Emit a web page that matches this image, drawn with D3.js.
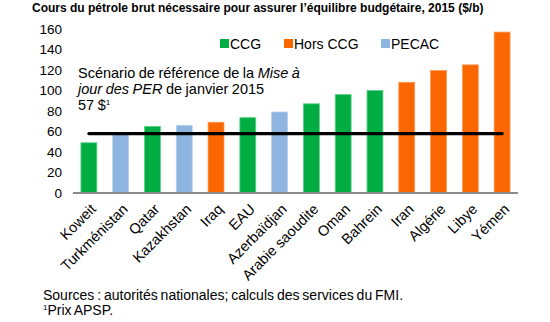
<!DOCTYPE html>
<html><head><meta charset="utf-8">
<script src="https://cdn.jsdelivr.net/npm/d3@7"></script>
<style>
body{margin:0;background:#fff;}
text{font-family:"Liberation Sans",Arial,sans-serif;fill:#000;}
</style></head>
<body>
<svg id="chart" width="550" height="322"></svg>
<script>
const countries = ["Koweit","Turkménistan","Qatar","Kazakhstan","Iraq","EAU","Azerbaïdjan","Arabie saoudite","Oman","Bahrein","Iran","Algérie","Libye","Yémen"];
const values = [49, 57, 65, 66, 69, 73.5, 79, 87, 96, 100, 108, 119.5, 125, 157];
const groups = ["CCG","PECAC","CCG","PECAC","Hors CCG","CCG","PECAC","CCG","CCG","CCG","Hors CCG","Hors CCG","Hors CCG","Hors CCG"];
const groupNames = ["CCG","Hors CCG","PECAC"];
const groupColors = ["#00AD43","#FA6600","#8DB5DF"];
const groupStroke = ["#5BD088","#FF9A55","#B5CFEC"];
const yTicks = [0,20,40,60,80,100,120,140,160];
const refValue = 57;

const svg = d3.select("#chart");
const x = d3.scaleBand().domain(countries).range([73,518]).paddingInner(0.5).paddingOuter(0.25);
const y = d3.scaleLinear().domain([0,160]).range([193,29]);
const color = d3.scaleOrdinal().domain(groupNames).range(groupColors);
const stroke = d3.scaleOrdinal().domain(groupNames).range(groupStroke);

// title
svg.append("text").attr("x",32).attr("y",11.5).attr("font-weight","bold").attr("font-size",12)
  .text("Cours du pétrole brut nécessaire pour assurer l’équilibre budgétaire, 2015 ($/b)");

// y axis labels
const yAxis = d3.axisLeft(y).tickValues(yTicks).tickSize(0).tickPadding(0);
const ya = svg.append("g").attr("transform","translate(62,0)").call(yAxis);
ya.select(".domain").remove();
ya.selectAll("text").attr("font-size",13.5).attr("font-family","Liberation Sans, Arial, sans-serif").attr("fill","#000");

// bars
svg.append("g").selectAll("rect").data(countries).join("rect")
  .attr("x",d=>x(d)).attr("width",x.bandwidth())
  .attr("y",(d,i)=>y(values[i])).attr("height",(d,i)=>y(0)-y(values[i]))
  .attr("fill",(d,i)=>color(groups[i]))
  .attr("stroke",(d,i)=>stroke(groups[i])).attr("stroke-width",0.8);

// x axis
const xAxis = d3.axisBottom(x).tickSize(0).tickPadding(0);
const xa = svg.append("g").attr("transform",`translate(0,${y(0)})`).call(xAxis);
xa.select(".domain").attr("stroke","#8a8a8a").attr("stroke-width",2).attr("d","M73,0H518");
xa.selectAll("text").attr("font-size",14.5).attr("font-family","Liberation Sans, Arial, sans-serif").attr("fill","#000")
  .attr("text-anchor","end").attr("dy",0).attr("y",0)
  .attr("transform","translate(8,17) rotate(-45)");

// reference line
const c0 = x(countries[0]) + x.bandwidth()/2;
const c1 = x(countries[countries.length-1]) + x.bandwidth()/2;
svg.append("line").attr("x1",c0).attr("x2",c1).attr("y1",y(refValue)-1).attr("y2",y(refValue)-1)
  .attr("stroke","#000").attr("stroke-width",3.2).attr("stroke-linecap","round");

// annotation
const ann = svg.append("g").attr("font-size",14.5).attr("word-spacing","-0.5");
const t1 = ann.append("text").attr("x",78).attr("y",78);
t1.append("tspan").text("Scénario de référence de la ");
t1.append("tspan").attr("font-style","italic").text("Mise à");
const t2 = ann.append("text").attr("x",78).attr("y",94);
t2.append("tspan").attr("font-style","italic").text("jour des PER");
t2.append("tspan").text(" de janvier 2015");
const t3 = ann.append("text").attr("x",78).attr("y",110);
t3.append("tspan").text("57 $");
t3.append("tspan").attr("font-size",8).attr("dy",-5).text("1");

// legend
const lx = [220,284,381];
const lg = svg.append("g");
groupNames.forEach((g,i)=>{
  lg.append("rect").attr("x",lx[i]).attr("y",39).attr("width",9).attr("height",9).attr("fill",groupColors[i]);
  lg.append("text").attr("x",lx[i]+10).attr("y",49).attr("font-size",14).text(g);
});

// footer
const ft = svg.append("g").attr("font-size",14).attr("word-spacing","-1");
ft.append("text").attr("x",43).attr("y",300).text("Sources : autorités nationales; calculs des services du FMI.");
const f2 = ft.append("text").attr("x",43).attr("y",315);
f2.append("tspan").attr("font-size",8).attr("dy",-5).text("1");
f2.append("tspan").attr("dy",5).text("Prix APSP.");
</script>
</body></html>
